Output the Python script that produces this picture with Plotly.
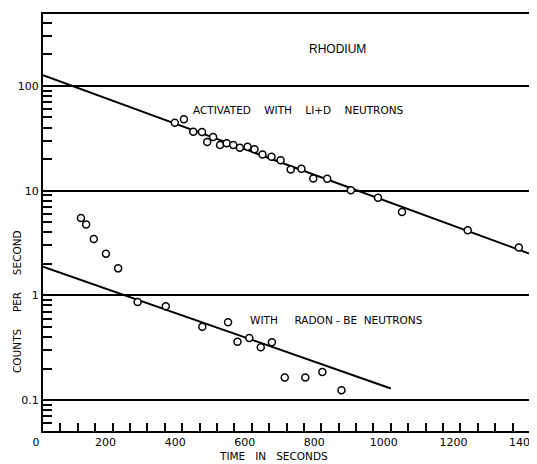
import plotly.graph_objects as go
import math

# ---- data ----
li_time = [379, 405, 432, 457, 472, 489, 509, 528, 547, 566, 588, 608, 631, 657,
           683, 712, 743, 777, 817, 885, 963, 1032, 1221, 1368]
li_counts = [44.6, 48.0, 36.6, 36.3, 29.1, 32.5, 27.3, 28.3, 27.3, 25.7, 26.3, 24.8,
             22.2, 21.1, 19.5, 15.9, 16.2, 13.1, 13.0, 10.1, 8.57, 6.25, 4.18, 2.86]

rn_time = [109, 124, 146, 181, 216, 272, 353, 458, 532, 559, 593, 626, 658, 695,
           754, 803, 858]
rn_counts = [5.47, 4.76, 3.45, 2.50, 1.81, 0.863, 0.785, 0.500, 0.552, 0.361, 0.391,
             0.319, 0.356, 0.164, 0.164, 0.185, 0.124]

li_fit_time = [0, 1400]
li_fit_counts = [127, 2.49]
rn_fit_time = [0, 1000]
rn_fit_counts = [1.88, 0.129]

x_tick_vals = [0, 200, 400, 600, 800, 1000, 1200, 1400]
x_tick_text = ["0", "200", "400", "600", "800", "1000", "1200", "1400"]
y_tick_vals = [0.1, 1, 10, 100]
y_tick_text = ["0.1", "1", "10", "100"]
y_minor_vals = [m * 10 ** e for e in range(-2, 3) for m in range(2, 10)]

FONT = "DejaVu Sans"
NB = "\u00a0"

fig = go.Figure()
line_style = dict(color="black", width=2)
fig.add_trace(go.Scatter(x=li_fit_time, y=li_fit_counts, mode="lines", line=line_style,
                         showlegend=False, hoverinfo="skip"))
fig.add_trace(go.Scatter(x=rn_fit_time, y=rn_fit_counts, mode="lines", line=line_style,
                         showlegend=False, hoverinfo="skip"))
marker_style = dict(symbol="circle", size=7, color="white",
                    line=dict(color="black", width=1.5))
fig.add_trace(go.Scatter(x=li_time, y=li_counts, mode="markers", marker=marker_style,
                         showlegend=False))
fig.add_trace(go.Scatter(x=rn_time, y=rn_counts, mode="markers", marker=marker_style,
                         showlegend=False))

# page has an 8px body margin; plot area in page pixels: left 43, right 530, top 14, bottom 431
OFF = 8
W, H = 537 - OFF, 464 - OFF
PL, PR, PT, PB = 43, 530, 14, 431
L, T = PL - OFF, PT - OFF
R = W - (PR - OFF)
B = H - (PB - OFF)
pw, ph = PR - PL, PB - PT


def px(x):
    return (x - PL) / pw


def py(y):
    return (PB - y) / ph


ann_font = dict(family=FONT, size=10.5, color="black")
common = dict(xref="paper", yref="paper", showarrow=False, yanchor="middle")
fig.add_annotation(text="RHODIUM", x=px(337), y=py(49), xanchor="center",
                   font=dict(family="Liberation Sans", size=12, color="black"), **common)
fig.add_annotation(text="ACTIVATED" + NB * 4 + "WITH" + NB * 4 + "LI+D" + NB * 4 + "NEUTRONS",
                   x=px(191), y=py(110), xanchor="left", font=ann_font, **common)
fig.add_annotation(text="WITH" + NB * 5 + "RADON" + NB + "-" + NB + "BE" + NB * 2 + "NEUTRONS",
                   x=px(248), y=py(320), xanchor="left", font=ann_font, **common)
fig.add_annotation(text="COUNTS" + NB * 5 + "PER" + NB * 5 + "SECOND",
                   x=px(17), y=py(302), xanchor="center", textangle=-90,
                   font=ann_font, **common)
fig.add_annotation(text="TIME" + NB * 3 + "IN" + NB * 3 + "SECONDS",
                   x=px(273), y=py(456), xanchor="center", font=ann_font, **common)

fig.update_xaxes(range=[0, 1400], tickmode="array", tickvals=x_tick_vals,
                 ticktext=x_tick_text, ticks="inside", ticklen=8, tickwidth=1.5,
                 tickcolor="black", minor=dict(dtick=50, tick0=0, ticks="inside",
                                               ticklen=8, tickwidth=1.5, tickcolor="black",
                                               showgrid=False),
                 showgrid=False, zeroline=False, showline=True, linecolor="black",
                 linewidth=2, mirror=True, ticklabeloverflow="allow", automargin=False,
                 ticklabelshift=-7,
                 tickfont=dict(family=FONT, size=11, color="black"))
fig.update_yaxes(type="log", range=[math.log10(0.0506), math.log10(487)],
                 tickmode="array", tickvals=y_tick_vals, ticktext=y_tick_text,
                 ticks="inside", ticklen=9, tickwidth=1.5, tickcolor="black",
                 minor=dict(tickmode="array", tickvals=y_minor_vals, ticks="inside",
                            ticklen=9, tickwidth=1.5, tickcolor="black", showgrid=False),
                 showgrid=True, gridcolor="black", gridwidth=1.5, zeroline=False,
                 showline=True, linecolor="black", linewidth=2, mirror=True,
                 ticklabeloverflow="allow", automargin=False,
                 tickfont=dict(family=FONT, size=11, color="black"))

fig.update_layout(width=W, height=H, margin=dict(l=L, r=R, t=T, b=B, autoexpand=False),
                  paper_bgcolor="white", plot_bgcolor="white", showlegend=False)

fig.write_html("out.html")
